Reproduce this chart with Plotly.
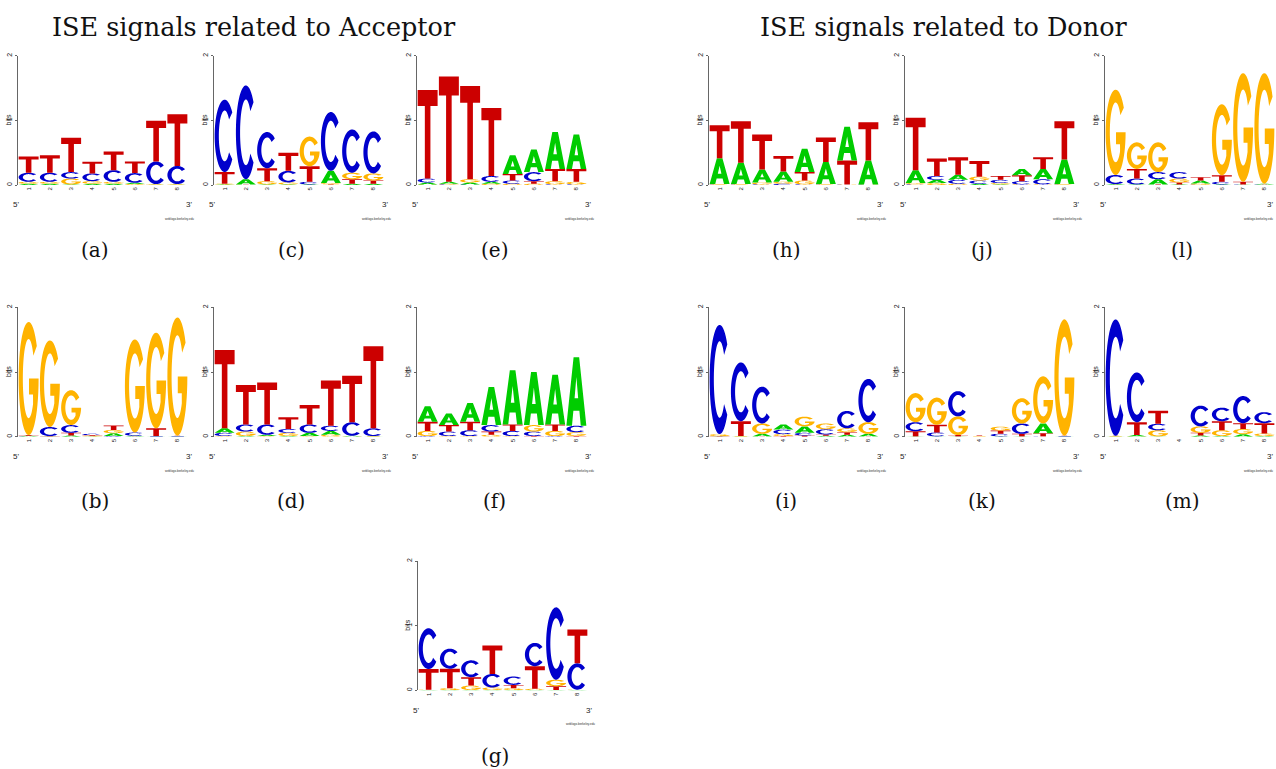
import numpy as np
import plotly.graph_objects as go

W, H = 1276, 769
POSITIONS = [1, 2, 3, 4, 5, 6, 7, 8]
TICK_TEXT = ["1", "2", "3", "4", "5", "6", "7", "8"]
Y_TICKS = [0, 1, 2]

# information content (bits) per letter and position, read from the logos
logo_a = dict(A=[.02, .02, .01, .02, .02, .02, .005, .005],
              C=[.14, .14, .10, .12, .18, .15, .35, .28],
              G=[.03, .03, .09, .04, .03, .015, .01, .01],
              T=[.25, .27, .53, .18, .29, .18, .63, .80])
logo_c = dict(A=[.01, .08, .01, .01, .01, .19, .02, .02],
              C=[1.12, 1.45, .56, .18, .04, .91, .67, .65],
              G=[.01, .005, .05, .03, .46, .02, .10, .11],
              T=[.18, .005, .20, .28, .24, .01, .07, .05])
logo_e = dict(A=[.03, .03, .03, .03, .29, .35, .57, .53],
              C=[.06, .01, .01, .09, .05, .14, .01, .01],
              G=[.01, .01, .05, .02, .02, .02, .05, .04],
              T=[1.37, 1.63, 1.44, 1.05, .10, .04, .19, .20])
logo_h = dict(A=[.40, .33, .20, .16, .36, .34, .52, .37],
              C=[.005, .005, .01, .02, .01, .005, .005, .005],
              G=[.01, .01, .03, .03, .06, .01, .005, .005],
              T=[.51, .64, .54, .24, .13, .38, .37, .59])
logo_j = dict(A=[.20, .05, .08, .02, .01, .10, .16, .38],
              C=[.01, .06, .06, .05, .05, .05, .08, .005],
              G=[.02, .03, .02, .06, .02, .01, .01, .01],
              T=[.81, .27, .27, .24, .06, .09, .18, .59])
logo_l = dict(A=[.01, .01, .08, .01, .045, .01, .005, .01],
              C=[.14, .09, .11, .10, .005, .04, .005, .005],
              G=[1.32, .41, .46, .06, .02, 1.10, 1.68, 1.71],
              T=[.005, .15, .01, .03, .05, .10, .04, .005])
logo_b = dict(A=[.01, .005, .02, .005, .045, .01, .005, .005],
              C=[.005, .14, .12, .02, .01, .05, .005, .005],
              G=[1.75, 1.34, .54, .01, .05, 1.44, 1.48, 1.83],
              T=[.01, .005, .04, .01, .07, .005, .12, .005])
logo_d = dict(A=[.07, .01, .02, .01, .05, .06, .01, .005],
              C=[.05, .11, .16, .06, .13, .08, .21, .12],
              G=[.01, .07, .01, .05, .01, .03, .005, .005],
              T=[1.21, .61, .65, .18, .30, .70, .72, 1.27])
logo_f = dict(A=[.24, .18, .29, .59, .84, .82, .77, 1.06],
              C=[.01, .07, .09, .10, .08, .07, .01, .10],
              G=[.08, .01, .01, .03, .01, .10, .08, .06],
              T=[.14, .10, .13, .05, .10, .01, .10, .01])
logo_i = dict(A=[.005, .005, .04, .08, .10, .015, .03, .04],
              C=[1.69, .91, .57, .07, .04, .08, .27, .67],
              G=[.03, .005, .16, .03, .15, .09, .06, .18],
              T=[.005, .23, .005, .01, .02, .02, .04, .005])
logo_k = dict(A=[.005, .005, .005, .002, .005, .005, .15, .005],
              C=[.14, .06, .39, .003, .04, .16, .005, .005],
              G=[.45, .42, .29, .005, .06, .39, .73, 1.80],
              T=[.08, .12, .02, .01, .05, .04, .05, .005])
logo_m = dict(A=[.005, .02, .005, 0, .02, .01, .04, .01],
              C=[1.80, .77, .10, 0, .32, .21, .42, .17],
              G=[.005, .005, .095, 0, .10, .09, .08, .04],
              T=[.005, .20, .20, 0, .04, .14, .09, .16])
logo_g = dict(A=[.005, .005, .005, .005, .005, .005, .005, .005],
              C=[.63, .31, .26, .21, .13, .36, 1.12, .41],
              G=[.005, .03, .07, .04, .03, .02, .10, .005],
              T=[.32, .30, .13, .44, .05, .35, .06, .52])

LOGOS = [("a", logo_a), ("c", logo_c), ("e", logo_e), ("h", logo_h), ("j", logo_j), ("l", logo_l),
         ("b", logo_b), ("d", logo_d), ("f", logo_f), ("i", logo_i), ("k", logo_k), ("m", logo_m),
         ("g", logo_g)]

COLORS = {"A": "#00CC00", "C": "#0000CC", "G": "#FFB300", "T": "#CC0000"}

# panel geometry in pixels: y-axis x position, baseline y
AXIS_X = {"a": 17, "c": 213, "e": 416, "h": 708, "j": 904, "l": 1104,
          "b": 17, "d": 213, "f": 416, "i": 708, "k": 904, "m": 1104, "g": 417}
BASE_Y = {k: 183 for k in "acehjl"}
BASE_Y.update({k: 436 for k in "bdfikm"})
BASE_Y["g"] = 691
LABEL_Y = {183: 248, 436: 501, 691: 757}
PLOT_W, PLOT_H = 170, 130


# ---- glyph outlines in a unit box ----
def arc(cx, cy, rx, ry, a0, a1, n=48):
    t = np.radians(np.linspace(a0, a1, n))
    return list(zip(cx + rx * np.cos(t), cy + ry * np.sin(t)))


GLYPHS = {
    "T": [[(0, 1), (1, 1), (1, .82), (.64, .82), (.64, 0), (.36, 0), (.36, .82), (0, .82)]],
    "A": [[(0, 0), (.36, 1), (.64, 1), (1, 0), (.72, 0), (.65, .22), (.35, .22), (.28, 0)],
          [(.41, .40), (.59, .40), (.50, .71)]],
    "C": [arc(.5, .5, .5, .5, 40, 320) + arc(.5, .5, .29, .35, 320, 40)],
    "G": [arc(.5, .5, .5, .5, 35, 360) + [(.52, .5), (.52, .36), (.72, .36)]
          + arc(.5, .5, .29, .35, 320, 35)],
}


def glyph_path(letter, x0, x1, y0, y1):
    parts = []
    for poly in GLYPHS[letter]:
        pts = [f"{x0 + u * (x1 - x0):.4f},{y0 + v * (y1 - y0):.4f}" for u, v in poly]
        parts.append("M " + " L ".join(pts) + " Z")
    return " ".join(parts)


def note(text, px, py, size, family="Liberation Sans", color="#222", angle=0):
    return dict(text=text, x=px / W, y=(H - py) / H, xref="paper", yref="paper",
                xanchor="center", yanchor="middle", showarrow=False, textangle=angle,
                font=dict(size=size, color=color, family=family))


fig = go.Figure()
shapes = []
annotations = []
layout_axes = {}

for idx, (name, logo) in enumerate(LOGOS, start=1):
    ax = AXIS_X[name]
    by = BASE_Y[name]
    xs = "" if idx == 1 else str(idx)
    xdom = [(ax + 1) / W, min((ax + 1 + PLOT_W) / W, 1.0)]
    ydom = [(H - by) / H, (H - by + PLOT_H) / H]
    layout_axes[f"xaxis{xs}"] = dict(domain=xdom, anchor=f"y{xs}", range=[0.5, 8.5],
                                     tickvals=POSITIONS, ticktext=TICK_TEXT, tickangle=-90,
                                     tickfont=dict(size=6, color="#222", family="Liberation Sans"),
                                     showline=False, showgrid=False, zeroline=False,
                                     ticks="", ticklen=0, fixedrange=True)
    layout_axes[f"yaxis{xs}"] = dict(domain=ydom, anchor=f"x{xs}", range=[0, 2],
                                     tickvals=Y_TICKS, ticktext=[str(v) for v in Y_TICKS],
                                     tickangle=-90, showline=True, linecolor="#666", linewidth=1,
                                     ticks="outside", ticklen=2, tickcolor="#666",
                                     tickfont=dict(size=7, color="#222", family="Liberation Sans"),
                                     showgrid=False, zeroline=False, fixedrange=True)
    # invisible trace so the subplot axes are drawn
    fig.add_trace(go.Scatter(x=POSITIONS, y=[0] * 8, xaxis=f"x{xs}", yaxis=f"y{xs}",
                             mode="markers", marker=dict(opacity=0), hoverinfo="skip",
                             showlegend=False))
    for i, pos in enumerate(POSITIONS):
        stack = sorted(((logo[l][i], l) for l in "ACGT"), key=lambda t: t[0])
        y0 = 0.0
        for h, letter in stack:
            if h >= 0.004:
                shapes.append(dict(type="path", xref=f"x{xs}", yref=f"y{xs}",
                                   path=glyph_path(letter, pos - 0.47, pos + 0.47, y0, y0 + h),
                                   fillcolor=COLORS[letter], line=dict(width=0),
                                   fillrule="evenodd", layer="above"))
            y0 += h
    annotations.append(note("bits", ax - 9, by - 65, 7, angle=-90))
    annotations.append(note("5'", ax - 1, by + 20, 8))
    annotations.append(note("3'", min(ax + 172, 1270), by + 20, 8))
    annotations.append(note("weblogo.berkeley.edu", min(ax + 163, 1258), by + 34, 3,
                            color="#333"))
    annotations.append(note(f"({name})", ax + 78, LABEL_Y[by], 20, family="DejaVu Serif",
                            color="#111"))

annotations.append(note("ISE signals related to Acceptor", 254, 24, 25.5, family="DejaVu Serif",
                        color="#111"))
annotations.append(note("ISE signals related to Donor", 943, 24, 25.5, family="DejaVu Serif",
                        color="#111"))

fig.update_layout(width=W, height=H, margin=dict(l=0, r=0, t=0, b=0),
                  paper_bgcolor="white", plot_bgcolor="white", showlegend=False,
                  shapes=shapes, annotations=annotations, **layout_axes)

fig.write_html("out.html", config={"displayModeBar": False})
